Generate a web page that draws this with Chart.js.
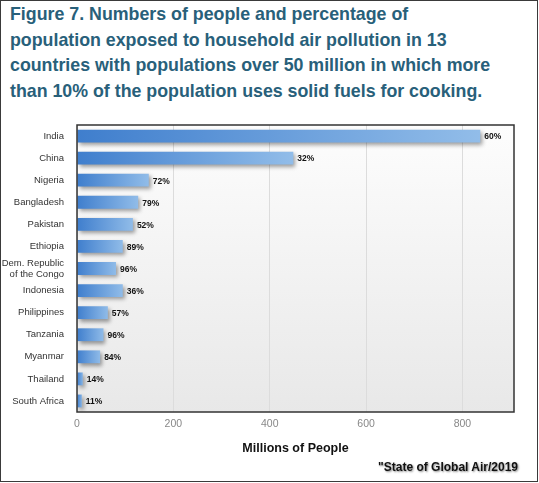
<!DOCTYPE html>
<html>
<head>
<meta charset="utf-8">
<script src="https://cdn.jsdelivr.net/npm/chart.js@4"></script>
<style>
  html, body { margin: 0; padding: 0; background: #fff; }
  #frame { position: relative; width: 539px; height: 483px; overflow: hidden; }
  #border { position: absolute; left: 0; top: 0; width: 538px; height: 482px; box-sizing: border-box; border: 1.5px solid #3a3a3a; }
  #title { position: absolute; left: 10px; top: 2px; font: bold 17.8px 'Liberation Sans', Arial, sans-serif; line-height: 25.7px; color: #28607a; white-space: nowrap; }
  #source { position: absolute; right: 21px; top: 460px; font: bold 12px 'Liberation Sans', Arial, sans-serif; line-height: 14px; color: #111; text-shadow: 1px 1px 2px #888; white-space: nowrap; }
  canvas { position: absolute; left: 0; top: 110px; }
</style>
</head>
<body>
<div id="frame">
  <div id="title">Figure 7. Numbers of people and percentage of<br>population exposed to household air pollution in 13<br>countries with populations over 50 million in which more<br>than 10% of the population uses solid fuels for cooking.</div>
  <canvas id="hapChart" width="539" height="355"></canvas>
  <div id="source">"State of Global Air/2019</div>
  <div id="border"></div>
</div>
<script>
const countries = ['India', 'China', 'Nigeria', 'Bangladesh', 'Pakistan', 'Ethiopia', ['Dem. Republic', 'of the Congo'], 'Indonesia', 'Philippines', 'Tanzania', 'Myanmar', 'Thailand', 'South Africa']
const peopleMillions = [837, 449, 149, 127, 116, 95, 81, 95, 64, 55, 48, 12, 10]
const percentExposed = [60, 32, 72, 79, 52, 89, 96, 36, 57, 96, 84, 14, 11]
const xTicks = [0, 200, 400, 600, 800]
const xMax = 907

const sans = "'Liberation Sans', Arial, sans-serif"

function barFill(c) {
  const chart = c.chart
  const x = chart.scales.x
  if (!chart.chartArea || !x) return '#5b95d8'
  const x0 = x.getPixelForValue(0)
  const x1 = x.getPixelForValue(c.raw)
  const g = chart.ctx.createLinearGradient(x0, 0, x1 + 1, 0)
  g.addColorStop(0, '#3f7ecd')
  g.addColorStop(1, '#92bde9')
  return g
}

const plotBackground = {
  id: 'plotBackground',
  beforeDraw(chart) {
    const { ctx, chartArea: a } = chart
    const g = ctx.createLinearGradient(0, a.top, 0, a.bottom)
    g.addColorStop(0, '#fdfdfd')
    g.addColorStop(1, '#e8e8e8')
    ctx.save()
    ctx.fillStyle = g
    ctx.fillRect(a.left, a.top, a.right - a.left, a.bottom - a.top)
    ctx.restore()
  }
}

const barShadow = {
  id: 'barShadow',
  beforeDatasetsDraw(chart) {
    const c = chart.ctx
    c.save()
    c.shadowColor = 'rgba(0,0,0,0.38)'
    c.shadowBlur = 4
    c.shadowOffsetX = 2
    c.shadowOffsetY = 2.5
  },
  afterDatasetsDraw(chart) {
    chart.ctx.restore()
  }
}

const valueLabels = {
  id: 'valueLabels',
  afterDatasetsDraw(chart) {
    const ctx = chart.ctx
    const a = chart.chartArea
    ctx.save()
    ctx.font = 'bold 8.5px ' + sans
    ctx.fillStyle = '#111'
    ctx.textAlign = 'left'
    ctx.textBaseline = 'middle'
    chart.getDatasetMeta(0).data.forEach((bar, i) => {
      ctx.fillText(percentExposed[i] + '%', bar.x + 4, bar.y + 1)
    })
    // frame round the plot
    ctx.strokeStyle = '#333'
    ctx.lineWidth = 1.5
    ctx.strokeRect(a.left, a.top, a.right - a.left, a.bottom - a.top)
    ctx.restore()
  }
}

new Chart(document.getElementById('hapChart'), {
  type: 'bar',
  data: {
    labels: countries,
    datasets: [{
      data: peopleMillions,
      backgroundColor: barFill,
      borderWidth: 0,
      barPercentage: 0.58,
      categoryPercentage: 1
    }]
  },
  options: {
    indexAxis: 'y',
    responsive: false,
    animation: false,
    layout: { padding: { top: 15, right: 25, left: 0, bottom: 0 } },
    plugins: {
      legend: { display: false },
      tooltip: { enabled: false }
    },
    scales: {
      y: {
        grid: { display: false },
        border: { display: false },
        ticks: { color: '#333', font: { family: sans, size: 9.5, lineHeight: 1.15 }, padding: 5, autoSkip: false },
        afterFit: s => { s.width = 77 }
      },
      x: {
        min: 0,
        max: xMax,
        grid: { color: '#dcdcdc', drawTicks: false },
        border: { display: false },
        ticks: { color: '#888', font: { family: sans, size: 10.5 }, padding: 6 },
        afterBuildTicks: s => { s.ticks = xTicks.map(v => ({ value: v })) },
        title: {
          display: true,
          text: 'Millions of People',
          color: '#111',
          font: { family: sans, size: 12.5, weight: 'bold' },
          padding: { top: 0, bottom: 9 }
        },
        afterFit: s => { s.height = 53 }
      }
    }
  },
  plugins: [plotBackground, barShadow, valueLabels]
})
</script>
</body>
</html>
